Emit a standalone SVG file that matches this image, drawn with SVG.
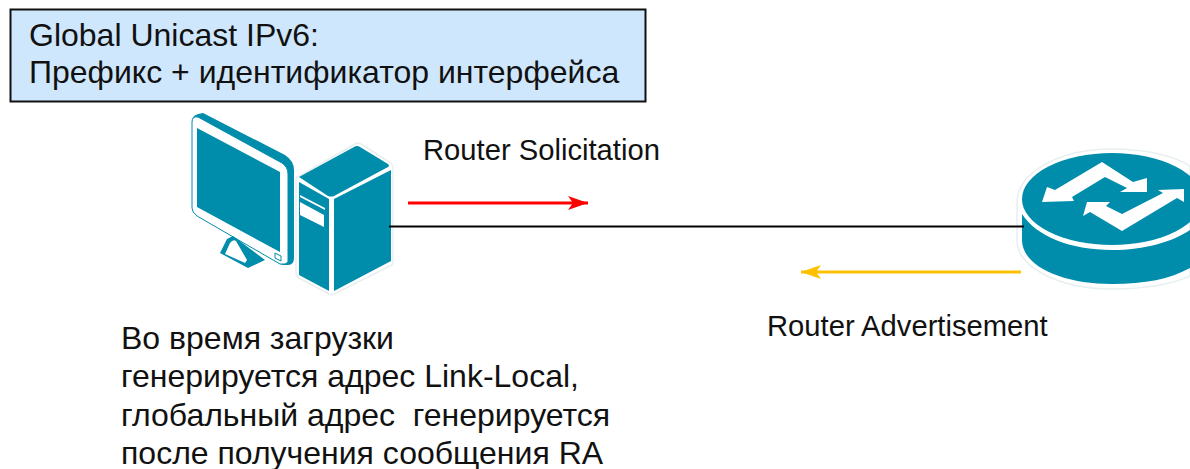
<svg xmlns="http://www.w3.org/2000/svg" width="1190" height="469" viewBox="0 0 1190 469">
<style>
text{font-family:"Liberation Sans",Arial,sans-serif;fill:#111;white-space:pre}
.big{font-size:32px}
.lbl{font-size:29.200px}
.teal{fill:#008CAB}
.wht{fill:#fff}
.halo{fill:#fff;stroke:#e8eff1;stroke-width:1.500}
</style>
<defs>
<marker id="r" markerUnits="userSpaceOnUse" markerWidth="20" markerHeight="14" refX="20" refY="7" orient="auto"><path d="M0 0L20 7L0 14L5 7Z" fill="#f00"/></marker>
<marker id="y" markerUnits="userSpaceOnUse" markerWidth="20" markerHeight="14" refX="20" refY="7" orient="auto"><path d="M0 0L20 7L0 14L5 7Z" fill="#FFC000"/></marker>
</defs>
<rect width="1190" height="469" fill="#fff"/>
<g id="title"><rect x="10.500" y="9.500" width="635" height="92" fill="#CFE7FD" stroke="#111" stroke-width="2"/>
<text class="big" x="29" y="46">Global Unicast IPv6:</text>
<text class="big" x="29" y="83">Префикс + идентификатор интерфейса</text></g>
<g id="host">
<path class="teal" d="M192 121Q192 114 203 113L285 155Q294 161 294 170V258Q294 265 288 265H282L192 210Z"/>
<path class="wht" stroke="#008CAB" stroke-width="1" d="M192 122Q192 116 198 117L282 163Q288 167 288 174V262Q286 265 280 264L197 216Q192 212 192 208Z"/>
<path class="teal" d="M197 128L280 172V252L197 207Z"/>
<path class="teal" d="M220 253L227 239L233 236L265 260L248 268Z"/>
<path class="wht" d="M225 254L230 243Q233 239 236 241L247 260L245 263Z"/>
<path class="wht" d="M275 253L281 256V261L275 258Z" stroke="#008CAB" stroke-width="1"/>
<path class="halo" d="M296 178L355 144Q358 142 361 144L391 163Q393 165 393 168V262Q393 265 390 266L334 294Q331 295 329 294L299 278Q296 276 296 273Z"/>
<path class="teal" d="M299 177L354 147Q357 145 360 147L388 164Q390 166 388 167L334 196Q331 197 328 196Z"/>
<path class="teal" d="M299 182L329 199V291L299 275Z"/>
<path class="teal" d="M334 199L391 170V261L334 291Z"/>
<path class="wht" d="M300 195L325 208V210L300 197Z"/>
<path class="wht" d="M300 202L324 215V227L300 215Z"/>
</g>
<g id="router">
<path class="halo" d="M1017 203C1017 172 1060 149 1112 149C1150 149 1178 158 1190 166V276C1170 285 1145 289 1112 289C1060 289 1017 268 1017 240Z"/>
<path class="teal" d="M1022 214C1036 236 1070 250 1112 250C1145 250 1172 242 1190 230V268C1170 279 1145 284 1112 284C1062 284 1022 266 1022 240Z"/>
<ellipse class="teal" cx="1112" cy="199" rx="90" ry="46"/>
<path class="wht" d="M1042 202L1047 187L1055 190L1102 162L1133 182L1147 178V192L1120 192L1127 188L1105 177L1072 197L1074 201Z"/>
<path class="wht" d="M1184 189V202L1177 198L1122 231L1090 212L1083 216L1087 202L1110 202L1106 206L1122 214L1163 193L1158 190Z"/>
</g>
<g id="connectors">
<path d="M389 226.500H1024" stroke="#000" stroke-width="2" fill="none"/>
<path d="M408 203H588" stroke="#f00" stroke-width="3" fill="none" marker-end="url(#r)"/>
<path d="M1021 272H801" stroke="#FFC000" stroke-width="3" fill="none" marker-end="url(#y)"/>
</g>
<g id="label-rs"><text class="lbl" x="423" y="160">Router Solicitation</text></g>
<g id="label-ra"><text class="lbl" x="767" y="336">Router Advertisement</text></g>
<g id="note">
<text class="big" x="121" y="349">Во время загрузки</text>
<text class="big" x="121" y="387">генерируется адрес Link-Local,</text>
<text class="big" x="121" y="426">глобальный адрес  генерируется</text>
<text class="big" x="121" y="464">после получения сообщения RA</text>
</g>
</svg>
